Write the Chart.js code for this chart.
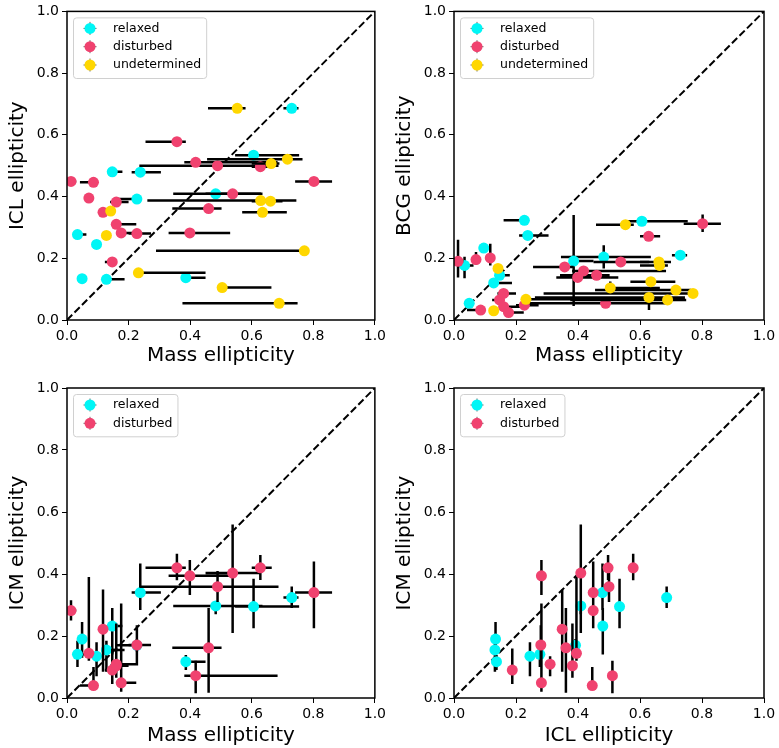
<!DOCTYPE html>
<html>
<head>
<meta charset="utf-8">
<script src="https://cdn.jsdelivr.net/npm/chart.js@4.4.0/dist/chart.umd.min.js"></script>
<style>
  html, body { margin: 0; padding: 0; background: #fff; }
  #fig { position: relative; width: 779px; height: 748px; }
  #fig canvas { position: absolute; }
</style>
</head>
<body>
<div id="fig">
  <canvas id="massIcl" width="389" height="374" style="left:0;top:0"></canvas>
  <canvas id="massBcg" width="390" height="374" style="left:389px;top:0"></canvas>
  <canvas id="massIcm" width="389" height="374" style="left:0;top:374px"></canvas>
  <canvas id="iclIcm" width="390" height="374" style="left:389px;top:374px"></canvas>
</div>
<script>
// relaxed clusters
const relMass    = [0.034, 0.049, 0.096, 0.128, 0.147, 0.227, 0.238, 0.386, 0.483, 0.606, 0.730];
const relMassErr = [[0.025,0.063],[0.045,0.055],[0.09,0.10],[0.12,0.187],[0.14,0.18],[0.16,0.235],[0.21,0.305],[0.38,0.45],[0.345,0.635],[0.546,0.754],[0.703,0.752]];
const relIcl     = [0.277, 0.134, 0.245, 0.132, 0.480, 0.392, 0.479, 0.137, 0.409, 0.534, 0.686];
const relBcg     = [0.177, 0.054, 0.233, 0.120, 0.145, 0.323, 0.274, 0.191, 0.204, 0.320, 0.210];
const relBcgErr  = [[0.135,0.205],[0.045,0.062],[0.225,0.24],[0.11,0.13],[0.135,0.155],[0.315,0.33],[0.265,0.28],[0.045,0.34],[0.167,0.242],[0.312,0.328],[0.2,0.22]];
const relIcm     = [0.141, 0.190, 0.135, 0.155, 0.232, 0.170, 0.340, 0.117, 0.297, 0.295, 0.324];
const relIcmErr  = [[0.10,0.185],[0.13,0.245],[0.07,0.18],[0.085,0.185],[0.14,0.29],[0.15,0.19],[0.284,0.434],[0.09,0.139],[0.27,0.31],[0.225,0.385],[0.29,0.36]];

// disturbed clusters
const disMass    = [0.013, 0.071, 0.086, 0.117, 0.147, 0.160, 0.160, 0.176, 0.227, 0.357, 0.399, 0.418, 0.460, 0.489, 0.538, 0.628, 0.802];
const disMassErr = [[0.0,0.03],[0.065,0.078],[0.042,0.09],[0.11,0.125],[0.123,0.15],[0.14,0.2],[0.15,0.225],[0.16,0.225],[0.2,0.273],[0.255,0.386],[0.33,0.53],[0.381,0.684],[0.342,0.502],[0.235,0.687],[0.45,0.63],[0.6,0.665],[0.741,0.861]];
const disIcl     = [0.449, 0.395, 0.446, 0.349, 0.188, 0.382, 0.310, 0.282, 0.280, 0.578, 0.282, 0.511, 0.361, 0.500, 0.409, 0.497, 0.449];
const disBcg     = [0.190, 0.196, 0.032, 0.201, 0.065, 0.086, 0.043, 0.024, 0.048, 0.172, 0.138, 0.159, 0.145, 0.054, 0.188, 0.271, 0.312];
const disBcgErr  = [[0.138,0.26],[0.18,0.22],[0.025,0.04],[0.177,0.247],[0.058,0.072],[0.078,0.094],[0.036,0.05],[0.018,0.03],[0.04,0.056],[0.16,0.185],[0.125,0.15],[0.15,0.17],[0.135,0.155],[0.045,0.065],[0.175,0.2],[0.262,0.28],[0.285,0.342]];
const disIcm     = [0.282, 0.144, 0.040, 0.222, 0.090, 0.104, 0.109, 0.049, 0.171, 0.420, 0.394, 0.072, 0.162, 0.359, 0.403, 0.420, 0.340];
const disIcmErr  = [[0.25,0.315],[0.12,0.39],[0.03,0.1],[0.085,0.35],[0.045,0.16],[0.065,0.24],[0.07,0.135],[0.02,0.305],[0.105,0.235],[0.38,0.465],[0.332,0.445],[0.015,0.12],[0.017,0.29],[0.31,0.41],[0.21,0.56],[0.381,0.461],[0.225,0.44]];

// undetermined clusters (no ICM measurement)
const undMass    = [0.128, 0.142, 0.232, 0.504, 0.553, 0.629, 0.635, 0.661, 0.663, 0.689, 0.716, 0.771];
const undMassErr = [[0.12,0.135],[0.135,0.15],[0.225,0.45],[0.5,0.664],[0.458,0.58],[0.261,0.745],[0.569,0.714],[0.6,0.7],[0.6,0.69],[0.375,0.749],[0.455,0.765],[0.289,0.78]];
const undIcl     = [0.274, 0.353, 0.153, 0.105, 0.686, 0.387, 0.349, 0.385, 0.507, 0.054, 0.521, 0.224];
const undBcg     = [0.030, 0.167, 0.067, 0.104, 0.309, 0.073, 0.124, 0.188, 0.177, 0.065, 0.097, 0.086];
const undBcgErr  = [[0.025,0.035],[0.155,0.18],[0.06,0.075],[0.085,0.125],[0.3,0.318],[0.032,0.087],[0.115,0.13],[0.18,0.195],[0.17,0.185],[0.05,0.075],[0.085,0.105],[0.075,0.095]];

const tickValues = [0, 0.2, 0.4, 0.6, 0.8, 1.0];

const COLORS = { relaxed: '#00f6f6', disturbed: '#f0426f', undetermined: '#ffd700' };
const FONT = "'DejaVu Sans'";

// black error bars, drawn just before each group's markers
const errorBars = {
    id: 'errorBars',
    beforeDatasetDraw(chart, args) {
        let ds = chart.data.datasets[args.index];
        if (!ds.xErr && !ds.yErr) return;
        let {ctx, chartArea: a, scales: {x, y}} = chart;
        ctx.save();
        ctx.beginPath();
        ctx.rect(a.left, a.top, a.right - a.left, a.bottom - a.top);
        ctx.clip();
        ctx.strokeStyle = '#000';
        ctx.lineWidth = 2.5;
        ctx.beginPath();
        ds.data.forEach((p, i) => {
            let px = x.getPixelForValue(p.x), py = y.getPixelForValue(p.y);
            if (ds.xErr) {
                ctx.moveTo(x.getPixelForValue(ds.xErr[i][0]), py);
                ctx.lineTo(x.getPixelForValue(ds.xErr[i][1]), py);
            }
            if (ds.yErr) {
                ctx.moveTo(px, y.getPixelForValue(ds.yErr[i][0]));
                ctx.lineTo(px, y.getPixelForValue(ds.yErr[i][1]));
            }
        });
        ctx.stroke();
        ctx.restore();
    }
};

// full box around the axes
const frame = {
    id: 'frame',
    afterDatasetsDraw(chart) {
        let {ctx, chartArea: a} = chart;
        ctx.save();
        ctx.strokeStyle = '#000';
        ctx.lineWidth = 1.5;
        ctx.strokeRect(a.left, a.top, a.right - a.left, a.bottom - a.top);
        ctx.restore();
    }
};

// matplotlib-like legend box in the upper left corner
const boxLegend = {
    id: 'boxLegend',
    afterDraw(chart) {
        let items = chart.data.datasets.filter(d => d.inLegend);
        let {ctx, chartArea: a} = chart;
        ctx.save();
        ctx.font = '12.5px ' + FONT;
        let textW = Math.max(...items.map(d => ctx.measureText(d.label).width));
        let x0 = a.left + 6, y0 = a.top + 6;
        let w = 40 + textW + 5, h = 11 + (items.length - 1) * 18.3 + 13;
        ctx.fillStyle = 'rgba(255,255,255,0.85)';
        ctx.strokeStyle = '#d0d0d0';
        ctx.lineWidth = 1;
        ctx.beginPath();
        ctx.roundRect(x0 + 0.5, y0 + 0.5, w, h, 3);
        ctx.fill();
        ctx.stroke();
        items.forEach((d, i) => {
            let cy = y0 + 11 + i * 18.3, cx = x0 + 17;
            ctx.strokeStyle = '#666';
            ctx.lineWidth = 1;
            ctx.beginPath();
            ctx.moveTo(cx - 6.5, cy); ctx.lineTo(cx + 6.5, cy);
            ctx.moveTo(cx, cy - 6.5); ctx.lineTo(cx, cy + 6.5);
            ctx.stroke();
            ctx.fillStyle = d.backgroundColor;
            ctx.beginPath();
            ctx.arc(cx, cy, 5.5, 0, Math.PI * 2);
            ctx.fill();
            ctx.fillStyle = '#000';
            ctx.textBaseline = 'middle';
            ctx.fillText(d.label, x0 + 40, cy);
        });
        ctx.restore();
    }
};

function group(label, xs, ys, xErr, yErr, order) {
    return {
        label: label,
        inLegend: true,
        data: xs.map((v, i) => ({x: v, y: ys[i]})),
        xErr: xErr,
        yErr: yErr,
        backgroundColor: COLORS[label],
        pointBackgroundColor: COLORS[label],
        pointBorderWidth: 0,
        pointRadius: 5.5,
        order: order,
    };
}

function diagonal() {
    return {
        label: 'one-to-one',
        data: [{x: 0, y: 0}, {x: 1, y: 1}],
        showLine: true,
        borderColor: '#000',
        borderWidth: 2,
        borderDash: [7.4, 3.2],
        pointRadius: 0,
        order: 9,
    };
}

function axis(pos, title, size, titlePad) {
    return {
        type: 'linear',
        position: pos,
        min: 0,
        max: 1,
        afterBuildTicks: s => { s.ticks = tickValues.map(v => ({value: v})); },
        ticks: { color: '#000', font: {family: FONT, size: 14}, padding: 3, callback: v => v.toFixed(1) },
        grid: { drawOnChartArea: false, drawTicks: true, tickLength: 5, color: '#000', lineWidth: 1 },
        border: { display: false },
        title: {
            display: true, text: title, color: '#000',
            font: {family: FONT, size: 20},
            padding: pos === 'bottom' ? {top: 0, bottom: titlePad} : {top: titlePad, bottom: 0},
        },
        afterFit: s => { if (pos === 'bottom') s.height = size; else s.width = size; },
    };
}

function panel(id, p) {
    new Chart(document.getElementById(id), {
        type: 'scatter',
        data: { datasets: p.datasets.concat([diagonal()]) },
        options: {
            responsive: false,
            animation: false,
            events: [],
            layout: { padding: p.pad },
            plugins: { legend: { display: false }, tooltip: { enabled: false } },
            scales: {
                x: axis('bottom', p.xTitle, p.xHeight, p.xTitlePad),
                y: axis('left', p.yTitle, p.yWidth, p.yTitlePad),
            },
        },
        plugins: [errorBars, frame, boxLegend],
    });
}

panel('massIcl', {
    xTitle: 'Mass ellipticity', yTitle: 'ICL ellipticity',
    pad: {top: 10, right: 12, left: 0, bottom: 0}, yWidth: 67, xHeight: 54, xTitlePad: 6, yTitlePad: 6,
    datasets: [
        group('relaxed', relMass, relIcl, relMassErr, null, 3),
        group('disturbed', disMass, disIcl, disMassErr, null, 2),
        group('undetermined', undMass, undIcl, undMassErr, null, 1),
    ],
});

panel('massBcg', {
    xTitle: 'Mass ellipticity', yTitle: 'BCG ellipticity',
    pad: {top: 10, right: 15, left: 0, bottom: 0}, yWidth: 65, xHeight: 54, xTitlePad: 6, yTitlePad: 4,
    datasets: [
        group('relaxed', relMass, relBcg, relMassErr, relBcgErr, 3),
        group('disturbed', disMass, disBcg, disMassErr, disBcgErr, 2),
        group('undetermined', undMass, undBcg, undMassErr, undBcgErr, 1),
    ],
});

panel('massIcm', {
    xTitle: 'Mass ellipticity', yTitle: 'ICM ellipticity',
    pad: {top: 14, right: 12, left: 0, bottom: 0}, yWidth: 67, xHeight: 50, xTitlePad: 0, yTitlePad: 6,
    datasets: [
        group('relaxed', relMass, relIcm, relMassErr, relIcmErr, 3),
        group('disturbed', disMass, disIcm, disMassErr, disIcmErr, 2),
    ],
});

panel('iclIcm', {
    xTitle: 'ICL ellipticity', yTitle: 'ICM ellipticity',
    pad: {top: 14, right: 15, left: 0, bottom: 0}, yWidth: 65, xHeight: 50, xTitlePad: 0, yTitlePad: 4,
    datasets: [
        group('relaxed', relIcl, relIcm, null, relIcmErr, 3),
        group('disturbed', disIcl, disIcm, null, disIcmErr, 2),
    ],
});
</script>
</body>
</html>
